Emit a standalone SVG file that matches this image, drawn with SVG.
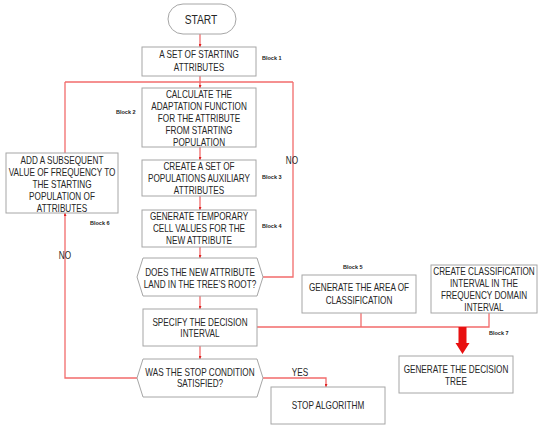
<svg xmlns="http://www.w3.org/2000/svg" width="550" height="427" viewBox="0 0 550 427">
<defs>
<style>
.box{fill:#fff;stroke:#a6a6a6;stroke-width:1}
.t{font-family:"Liberation Sans",Arial,sans-serif;font-size:10px;fill:#262626;text-anchor:middle}
.s{font-size:12.5px}
.b{font-family:"Liberation Sans",Arial,sans-serif;font-size:5.5px;font-weight:bold;fill:#222}
.c{fill:none;stroke:#f26b6b;stroke-width:1.3}
</style>
<marker id="ah" viewBox="0 0 6 6" refX="6" refY="3" markerWidth="3" markerHeight="3" orient="auto" markerUnits="userSpaceOnUse">
<path d="M0,0 L6,3 L0,6 z" fill="#e02020"/>
</marker>
</defs>
<rect width="550" height="427" fill="#fff"/>
<g id="connectors">
<path class="c" d="M200,34 V47" marker-end="url(#ah)"/>
<path class="c" d="M200,76 V82"/>
<path class="c" d="M65,82 H293"/>
<path class="c" d="M200,82 V88" marker-end="url(#ah)"/>
<path class="c" d="M200,147 V160" marker-end="url(#ah)"/>
<path class="c" d="M200,196 V210" marker-end="url(#ah)"/>
<path class="c" d="M200,247 V258" marker-end="url(#ah)"/>
<path class="c" d="M200,296 V309" marker-end="url(#ah)"/>
<path class="c" d="M200,346 V359" marker-end="url(#ah)"/>
<path class="c" d="M263,277 H293 V82"/>
<path class="c" d="M137,378 H65 V213" marker-end="url(#ah)"/>
<path class="c" d="M65,153 V82"/>
<path class="c" d="M263,378 H326 V387" marker-end="url(#ah)"/>
<path class="c" d="M257,327 H489 V313"/>
<path class="c" d="M361,313 V327"/>
<path d="M458.5,327 H466.5 V343 H469.5 L462.5,354 L455.5,343 H458.5 Z" fill="#e81010"/>
<g transform="translate(292,0) scale(0.82,1)"><text class="t" x="0" y="164">NO</text></g>
<g transform="translate(65,0) scale(0.82,1)"><text class="t" x="0" y="259">NO</text></g>
<g transform="translate(300,0) scale(0.82,1)"><text class="t" x="0" y="376">YES</text></g>
</g>
<g id="start">
<rect class="box" x="168" y="4" width="68" height="30" rx="15"/>
<g transform="translate(201,0) scale(0.82,1)"><text class="t s" x="0" y="24">START</text></g>
</g>
<g id="block1">
<rect class="box" x="142" y="47" width="114" height="29"/>
<g transform="translate(199,0) scale(0.82,1)">
<text class="t" x="0" y="58">A SET OF STARTING</text>
<text class="t" x="0" y="71">ATTRIBUTES</text>
</g>
<text class="b" x="262" y="60">Block 1</text>
</g>
<g id="block2">
<rect class="box" x="142" y="88" width="114" height="59"/>
<g transform="translate(199,0) scale(0.82,1)">
<text class="t" x="0" y="98">CALCULATE THE</text>
<text class="t" x="0" y="110">ADAPTATION FUNCTION</text>
<text class="t" x="0" y="122">FOR THE ATTRIBUTE</text>
<text class="t" x="0" y="134">FROM STARTING</text>
<text class="t" x="0" y="146">POPULATION</text>
</g>
<text class="b" x="116" y="114">Block 2</text>
</g>
<g id="block3">
<rect class="box" x="142" y="160" width="114" height="36"/>
<g transform="translate(199,0) scale(0.82,1)">
<text class="t" x="0" y="170">CREATE A SET OF</text>
<text class="t" x="0" y="182">POPULATIONS AUXILIARY</text>
<text class="t" x="0" y="194">ATTRIBUTES</text>
</g>
<text class="b" x="262" y="179">Block 3</text>
</g>
<g id="block4">
<rect class="box" x="142" y="210" width="114" height="37"/>
<g transform="translate(199,0) scale(0.82,1)">
<text class="t" x="0" y="220">GENERATE TEMPORARY</text>
<text class="t" x="0" y="232">CELL VALUES FOR THE</text>
<text class="t" x="0" y="244">NEW ATTRIBUTE</text>
</g>
<text class="b" x="262" y="228">Block 4</text>
</g>
<g id="decision1">
<polygon class="box" points="137,277 143,258 257,258 263,277 257,296 143,296"/>
<g transform="translate(200,0) scale(0.82,1)">
<text class="t" x="0" y="276">DOES THE NEW ATTRIBUTE</text>
<text class="t" x="0" y="288">LAND IN THE TREE’S ROOT?</text>
</g>
</g>
<g id="specify">
<rect class="box" x="143" y="309" width="114" height="37"/>
<g transform="translate(200,0) scale(0.82,1)">
<text class="t" x="0" y="326">SPECIFY THE DECISION</text>
<text class="t" x="0" y="337">INTERVAL</text>
</g>
</g>
<g id="decision2">
<polygon class="box" points="137,378 143,359 257,359 263,378 257,397 143,397"/>
<g transform="translate(200,0) scale(0.82,1)">
<text class="t" x="0" y="376">WAS THE STOP CONDITION</text>
<text class="t" x="0" y="387">SATISFIED?</text>
</g>
</g>
<g id="stop">
<rect class="box" x="271" y="387" width="114" height="37"/>
<g transform="translate(328,0) scale(0.82,1)">
<text class="t" x="0" y="409">STOP ALGORITHM</text>
</g>
</g>
<g id="block6">
<rect class="box" x="6" y="153" width="112" height="60"/>
<g transform="translate(62,0) scale(0.82,1)">
<text class="t" x="0" y="164">ADD A SUBSEQUENT</text>
<text class="t" x="0" y="176">VALUE OF FREQUENCY TO</text>
<text class="t" x="0" y="188">THE STARTING</text>
<text class="t" x="0" y="200">POPULATION OF</text>
<text class="t" x="0" y="212">ATTRIBUTES</text>
</g>
<text class="b" x="90" y="225">Block 6</text>
</g>
<g id="block5">
<rect class="box" x="302" y="275" width="114" height="38"/>
<g transform="translate(359,0) scale(0.82,1)">
<text class="t" x="0" y="291">GENERATE THE AREA OF</text>
<text class="t" x="0" y="304">CLASSIFICATION</text>
</g>
<text class="b" x="343" y="269">Block 5</text>
</g>
<g id="block7in">
<rect class="box" x="431" y="265" width="106" height="48"/>
<g transform="translate(484,0) scale(0.82,1)">
<text class="t" x="0" y="275">CREATE CLASSIFICATION</text>
<text class="t" x="0" y="287">INTERVAL IN THE</text>
<text class="t" x="0" y="299">FREQUENCY DOMAIN</text>
<text class="t" x="0" y="311">INTERVAL</text>
</g>
<text class="b" x="489" y="335">Block 7</text>
</g>
<g id="tree">
<rect class="box" x="399" y="356" width="114" height="37"/>
<g transform="translate(456,0) scale(0.82,1)">
<text class="t" x="0" y="373">GENERATE THE DECISION</text>
<text class="t" x="0" y="385">TREE</text>
</g>
</g>
</svg>
